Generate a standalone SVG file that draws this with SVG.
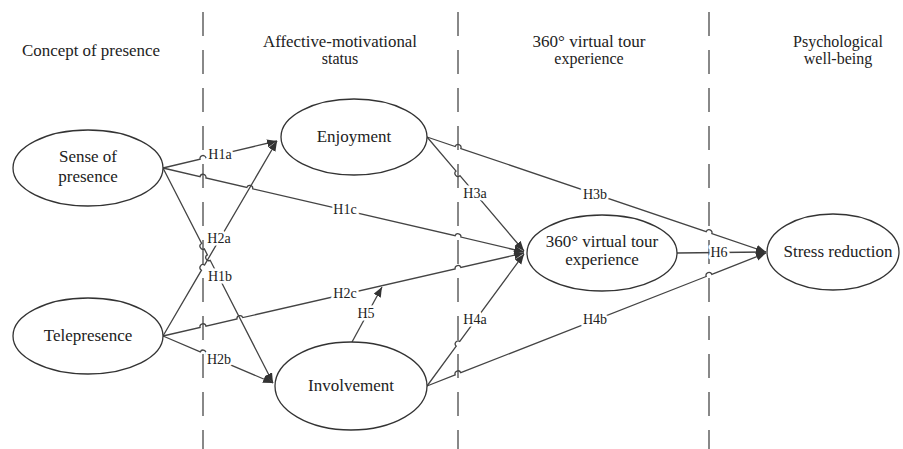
<svg xmlns="http://www.w3.org/2000/svg" width="903" height="449" viewBox="0 0 903 449">
<defs>
<marker id="arr" markerWidth="11" markerHeight="9" refX="10" refY="4" orient="auto" markerUnits="userSpaceOnUse">
<path d="M0,0 L10,4 L0,8 z" fill="#333"/>
</marker>
<style>
.hdr{font-family:"Liberation Serif","Times New Roman",serif;font-size:16px;fill:#222;text-anchor:middle}
.nt{font-family:"Liberation Serif","Times New Roman",serif;font-size:17px;fill:#222;text-anchor:middle}
.lb{font-family:"Liberation Serif","Times New Roman",serif;font-size:14px;fill:#222;text-anchor:middle;dominant-baseline:central;stroke:#fff;stroke-width:5;paint-order:stroke;stroke-linejoin:round}
.ell{fill:#fff;stroke:#333;stroke-width:1.3}
.cn{fill:none;stroke:#444;stroke-width:1.3}
.ar{marker-end:url(#arr)}
.dash{stroke:#888;stroke-width:2;stroke-dasharray:24 14}
</style>
</defs>
<rect width="903" height="449" fill="#fff"/>
<g id="dividers">
<line class="dash" x1="203" y1="12" x2="203" y2="449"/>
<line class="dash" x1="458" y1="12" x2="458" y2="449"/>
<line class="dash" x1="709" y1="12" x2="709" y2="449"/>
</g>
<g id="headers">
<text class="hdr" x="91" y="56" textLength="138" lengthAdjust="spacingAndGlyphs">Concept of presence</text>
<text class="hdr" x="340" y="47" textLength="154" lengthAdjust="spacingAndGlyphs">Affective-motivational</text>
<text class="hdr" x="340" y="64">status</text>
<text class="hdr" x="589" y="47" textLength="113" lengthAdjust="spacingAndGlyphs">360° virtual tour</text>
<text class="hdr" x="589" y="64">experience</text>
<text class="hdr" x="838" y="47">Psychological</text>
<text class="hdr" x="838" y="64">well-being</text>
</g>
<g id="connectors">
<path id="e-h1a" class="cn ar" d="M163,168 L200.08,159.2 A3,3 0 0 1 205.92,157.8 L277,141"/>
<path id="e-h1c" class="cn ar" d="M163,168 L200.08,176.6 A3,3 0 0 1 205.92,178 L246.9,187.4 A3,3 0 0 1 252.7,188.8 L455.1,235.7 A3,3 0 0 1 460.9,237.1 L524,252"/>
<path id="e-h2a" class="cn ar" d="M163,336 L201.48,270.2 A3,3 0 0 1 204.52,265 L277,141"/>
<path id="e-h1b" class="cn ar" d="M163,168 L201.63,243.5 A3,3 0 0 0 204.37,248.9 L207.4,254.9 A3,3 0 0 0 210.2,260.3 L273,383"/>
<path id="e-h2b" class="cn ar" d="M163,336 L200.24,351.9 A3,3 0 0 1 205.76,354.3 L273,383"/>
<path id="e-h2c" class="cn ar" d="M163,336 L200.07,327.5 A3,3 0 0 1 205.93,326.1 L237,319 A3,3 0 0 1 242.8,317.6 L455.1,268.9 A3,3 0 0 1 460.9,267.5 L524,253"/>
<path id="e-h5" class="cn ar" d="M352,342 L382,287"/>
<path id="e-h3a" class="cn ar" d="M427,137 L456.06,171.1 A3,3 0 0 0 459.94,175.7 L524,251"/>
<path id="e-h3b" class="cn ar" d="M427,137 L455.16,146.5 A3,3 0 0 1 460.84,148.5 L706.16,231.7 A3,3 0 0 1 711.84,233.7 L766,252"/>
<path id="e-h4a" class="cn ar" d="M427,386 L456.22,346.2 A3,3 0 0 1 459.78,341.4 L524,254"/>
<path id="e-h4b" class="cn ar" d="M427,386 L455.21,374.9 A3,3 0 0 1 460.79,372.7 L706.21,276.5 A3,3 0 0 1 711.79,274.3 L766,253"/>
<path id="e-h6" class="cn ar" d="M677,253 L766,252"/>
<text class="lb" x="220" y="154">H1a</text>
<text class="lb" x="345" y="209">H1c</text>
<text class="lb" x="219" y="238">H2a</text>
<text class="lb" x="220" y="276">H1b</text>
<text class="lb" x="219" y="359">H2b</text>
<text class="lb" x="345" y="293">H2c</text>
<text class="lb" x="366" y="313">H5</text>
<text class="lb" x="475" y="193">H3a</text>
<text class="lb" x="595" y="194">H3b</text>
<text class="lb" x="475" y="319">H4a</text>
<text class="lb" x="595" y="319">H4b</text>
<text class="lb" x="719" y="252">H6</text>
</g>
<g id="n-sense">
<ellipse class="ell" cx="88" cy="168" rx="75" ry="38"/>
<text class="nt" x="88" y="162">Sense of</text>
<text class="nt" x="88" y="182">presence</text>
</g>
<g id="n-tele">
<ellipse class="ell" cx="88" cy="336" rx="75" ry="38"/>
<text class="nt" x="88" y="341">Telepresence</text>
</g>
<g id="n-enjoy">
<ellipse class="ell" cx="354" cy="137" rx="73" ry="38"/>
<text class="nt" x="354" y="142">Enjoyment</text>
</g>
<g id="n-involve">
<ellipse class="ell" cx="351" cy="386" rx="76" ry="44"/>
<text class="nt" x="351" y="391">Involvement</text>
</g>
<g id="n-vt">
<ellipse class="ell" cx="602" cy="253" rx="75" ry="38"/>
<text class="nt" x="602" y="247">360° virtual tour</text>
<text class="nt" x="602" y="265">experience</text>
</g>
<g id="n-stress">
<ellipse class="ell" cx="833" cy="252" rx="66" ry="38"/>
<text class="nt" x="838" y="257">Stress reduction</text>
</g>
</svg>
